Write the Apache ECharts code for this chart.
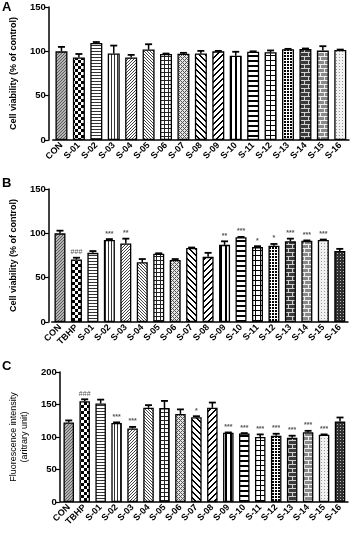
<!DOCTYPE html>
<html>
<head>
<meta charset="utf-8">
<script src="https://cdn.jsdelivr.net/npm/echarts@6/dist/echarts.min.js"></script>
<style>
  html, body { margin: 0; padding: 0; background: #fff; }
  #echarts { width: 354px; height: 536px; }
</style>
</head>
<body>
<div id="echarts"></div>
<script>
// categories
const catsA = ['CON', 'S-01', 'S-02', 'S-03', 'S-04', 'S-05', 'S-06', 'S-07', 'S-08',
  'S-09', 'S-10', 'S-11', 'S-12', 'S-13', 'S-14', 'S-15', 'S-16'];
const catsBC = ['CON', 'TBHP', 'S-01', 'S-02', 'S-03', 'S-04', 'S-05', 'S-06', 'S-07', 'S-08',
  'S-09', 'S-10', 'S-11', 'S-12', 'S-13', 'S-14', 'S-15', 'S-16'];

// panel A - cell viability
const valA = [100, 93, 109.5, 97.5, 93, 102, 97, 97.3, 97.5, 100, 95, 99.5, 99, 102.3, 102.7, 100.8, 101.5];
const errA = [5, 4, 1, 9, 3, 6, 0.5, 1, 3, 0.5, 4.5, 0.5, 2, 0.5, 0.5, 5, 0.5];

// panel B - cell viability with TBHP
const valB = [100, 70.5, 78, 92.5, 88.5, 67.5, 77, 70, 83.5, 73.5, 87, 95.5, 84.5, 86, 91, 91.5, 92.5, 80];
const errB = [3, 2, 2, 1, 5.5, 3.5, 0.5, 1, 0.5, 4.5, 4, 0.5, 1, 2, 3, 0.5, 0.5, 2.5];
const sigB = ['', '###', '', '***', '**', '', '', '', '', '', '**', '***', '*', '*', '***', '***', '***', ''];

// panel C - fluorescence intensity
const valC = [122.5, 155, 151.5, 121.5, 113, 145, 144.5, 135.5, 130.5, 145, 106.5, 105.5, 100, 102, 99, 107.5, 103.5, 124];
const errC = [3, 3, 6, 1, 2.5, 4, 11, 7, 1.5, 8, 0.5, 0.5, 4, 3, 3, 2, 0.5, 6];
const sigC = ['', '###', '', '***', '***', '', '', '', '*', '', '***', '***', '***', '***', '***', '***', '***', ''];

// fill patterns, one per bar position
function mk(w, h, bg, fn) {
  const c = document.createElement('canvas');
  c.width = w; c.height = h;
  const g = c.getContext('2d');
  g.fillStyle = bg;
  g.fillRect(0, 0, w, h);
  for (let x = 0; x < w; x++) {
    for (let y = 0; y < h; y++) {
      const col = fn(x, y);
      if (col) { g.fillStyle = col; g.fillRect(x, y, 1, 1); }
    }
  }
  return { image: c, repeat: 'repeat' };
}
function brick(bg, mortar) {
  return mk(8, 8, bg, (x, y) => (y % 4 === 0 || (y < 4 ? x === 0 : x === 4)) ? mortar : null);
}
const patterns = [
  mk(3, 3, '#b4b4b4', (x, y) => (x + y) % 3 === 0 ? '#5a5a5a' : null),
  mk(6, 6, '#fff', (x, y) => ((x < 3) === (y < 3)) ? '#000' : null),
  mk(4, 3, '#fff', (x, y) => y === 0 ? '#333' : null),
  mk(3, 4, '#fff', (x, y) => x === 0 ? '#333' : null),
  mk(3, 3, '#fff', (x, y) => (x + y) % 3 === 0 ? '#444' : null),
  mk(3, 3, '#fff', (x, y) => (x - y + 3) % 3 === 0 ? '#444' : null),
  mk(4, 4, '#fff', (x, y) => (x === 0 || y === 0) ? '#222' : null),
  mk(4, 4, '#e6e6e6', (x, y) => (x === y || x + y === 4) ? '#555' : null),
  mk(6, 6, '#fff', (x, y) => ((x - y) % 6 + 6) % 6 < 2 ? '#000' : null),
  mk(6, 6, '#fff', (x, y) => (x + y) % 6 < 2 ? '#000' : null),
  mk(5, 1, '#fff', (x, y) => x < 2 ? '#000' : null),
  mk(1, 5, '#fff', (x, y) => y < 2 ? '#000' : null),
  mk(5, 5, '#fff', (x, y) => (x === 0 || y === 0) ? '#000' : null),
  mk(6, 6, '#fff', (x, y) => (Math.floor((x + y) / 3) + Math.floor((x - y + 30) / 3)) % 2 ? '#000' : null),
  brick('#3a3a3a', '#d0d0d0'),
  brick('#8a8a8a', '#f0f0f0'),
  mk(3, 3, '#f2f2f2', (x, y) => (x === 0 && y === 0) ? '#999' : null),
  mk(3, 3, '#303030', (x, y) => (x === 1 && y === 1) ? '#bbb' : null)
];

const chartDom = document.getElementById('echarts');
const myChart = echarts.init(chartDom, null, { renderer: 'canvas' });
const FONT = 'Liberation Sans';

function barData(vals) {
  return vals.map((v, i) => ({ value: v, itemStyle: { color: patterns[i] } }));
}
function errData(vals, errs) {
  return vals.map((v, i) => [i, v, v + errs[i]]);
}
// 误差棒 + 显著性标记
function errRender(sigs) {
  return function (params, api) {
    const i = api.value(0);
    const top = api.coord([i, api.value(1)]);
    const hi = api.coord([i, api.value(2)]);
    const children = [
      { type: 'line', shape: { x1: top[0], y1: top[1], x2: hi[0], y2: hi[1] }, style: { stroke: '#000', lineWidth: 1.5 } },
      { type: 'line', shape: { x1: hi[0] - 3.5, y1: hi[1], x2: hi[0] + 3.5, y2: hi[1] }, style: { stroke: '#000', lineWidth: 1.8 } }
    ];
    const s = sigs ? sigs[params.dataIndex] : '';
    if (s) {
      children.push({
        type: 'text',
        style: {
          text: s, x: hi[0], y: hi[1] - 2,
          align: 'center', verticalAlign: 'bottom',
          fill: '#555', font: (s[0] === '#' ? '7px ' : 'bold 7px ') + FONT
        }
      });
    }
    return { type: 'group', children: children };
  };
}

function xAxisFor(idx, cats) {
  return {
    gridIndex: idx,
    type: 'category',
    data: cats,
    axisLine: { lineStyle: { color: '#000', width: 1.5 } },
    axisTick: { alignWithLabel: true, length: 3, lineStyle: { color: '#000', width: 1.2 } },
    axisLabel: { interval: 0, rotate: 45, margin: 4, color: '#000', fontSize: 9, fontWeight: 'bold', fontFamily: FONT }
  };
}
function yAxisFor(idx, max, offset, name, nameGap, bold) {
  return {
    gridIndex: idx,
    type: 'value',
    min: 0, max: max, interval: 50,
    offset: offset,
    name: name,
    nameLocation: 'middle',
    nameGap: nameGap,
    nameTextStyle: { color: '#000', fontSize: 9, fontWeight: bold ? 'bold' : 'normal', fontFamily: FONT, lineHeight: 11 },
    splitLine: { show: false },
    axisLine: { show: true, lineStyle: { color: '#000', width: 1.5 } },
    axisTick: { show: true, length: 4, lineStyle: { color: '#000', width: 1.2 } },
    axisLabel: { margin: 3, color: '#000', fontSize: 9.5, fontWeight: 'bold', fontFamily: FONT }
  };
}
function panelSeries(idx, vals, errs, sigs, bw) {
  return [
    {
      type: 'bar', xAxisIndex: idx, yAxisIndex: idx,
      data: barData(vals), barWidth: bw,
      itemStyle: { borderColor: '#000', borderWidth: 1.3 }
    },
    {
      type: 'custom', xAxisIndex: idx, yAxisIndex: idx,
      data: errData(vals, errs),
      encode: { x: 0, y: 2 },
      renderItem: errRender(sigs),
      z: 5
    }
  ];
}

const option = {
  animation: false,
  backgroundColor: '#fff',
  grid: [
    { left: 44, right: 5, top: 7, height: 133 },
    { left: 46, right: 6, top: 189, height: 133 },
    { left: 54, right: 6, top: 372, height: 130 }
  ],
  xAxis: [xAxisFor(0, catsA), xAxisFor(1, catsBC), xAxisFor(2, catsBC)],
  yAxis: [
    yAxisFor(0, 150, 4, 'Cell viability (% of control)', 23, true),
    yAxisFor(1, 150, 3, 'Cell viability (% of control)', 26, true),
    yAxisFor(2, 200, 1, 'Fluorescence intensity\n(aritrary unit)', 22, false)
  ],
  graphic: [
    { type: 'text', left: 2, top: 1, style: { text: 'A', font: 'bold 13px ' + FONT, fill: '#000' } },
    { type: 'text', left: 2, top: 177, style: { text: 'B', font: 'bold 13px ' + FONT, fill: '#000' } },
    { type: 'text', left: 2, top: 360, style: { text: 'C', font: 'bold 13px ' + FONT, fill: '#000' } }
  ],
  series: [].concat(
    panelSeries(0, valA, errA, null, 12),
    panelSeries(1, valB, errB, sigB, 11),
    panelSeries(2, valC, errC, sigC, 10.5)
  )
};
option && myChart.setOption(option);
</script>
</body>
</html>
